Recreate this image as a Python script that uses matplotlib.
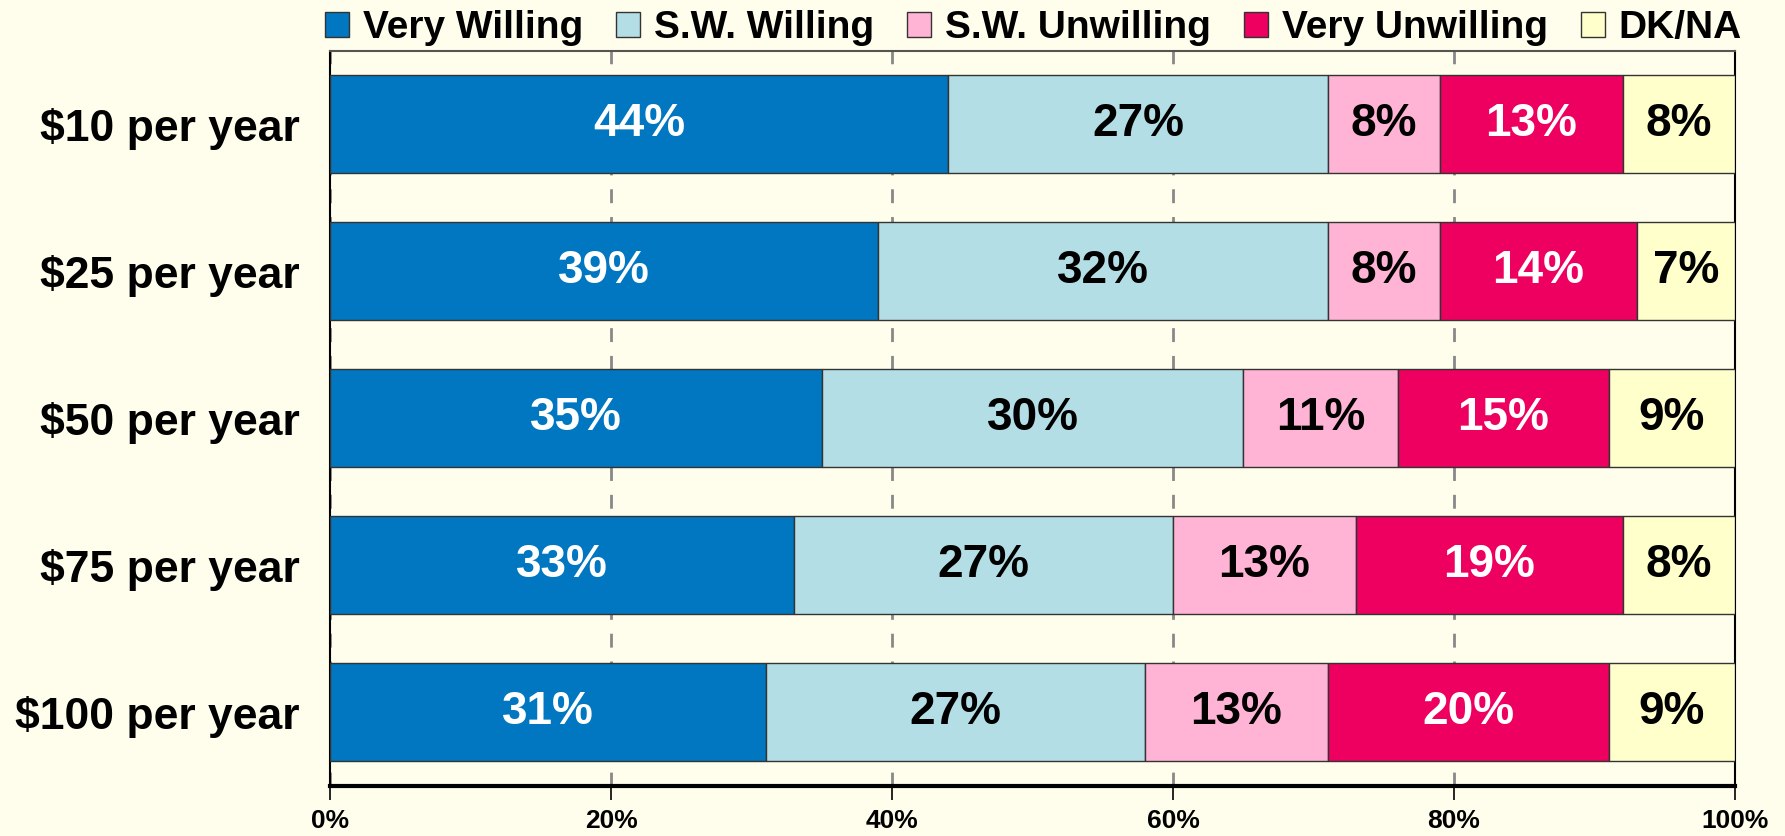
# 支払い意思の積み上げ横棒グラフ
import numpy as np
import matplotlib.pyplot as plt

plt.rcParams['font.family'] = ['Liberation Sans', 'DejaVu Sans']

# データ
categories = ["$10 per year", "$25 per year", "$50 per year", "$75 per year", "$100 per year"]
series = ["Very Willing", "S.W. Willing", "S.W. Unwilling", "Very Unwilling", "DK/NA"]
very_willing = [44, 39, 35, 33, 31]
sw_willing = [27, 32, 30, 27, 27]
sw_unwilling = [8, 8, 11, 13, 13]
very_unwilling = [13, 14, 15, 19, 20]
dk_na = [8, 7, 9, 8, 9]
xticks = [0, 20, 40, 60, 80, 100]

colors = ["#0077c0", "#b4dee6", "#ffb3d5", "#ee0060", "#ffffcc"]
text_colors = ["white", "black", "black", "white", "black"]
bg = "#fffeec"

fig = plt.figure(figsize=(17.85, 8.36), dpi=100, facecolor=bg)
ax = fig.add_axes([0.185, 0.06, 0.787, 0.879], facecolor=bg)

data = [very_willing, sw_willing, sw_unwilling, very_unwilling, dk_na]
y = np.arange(len(categories))
left = np.zeros(len(categories))
for vals, name, c, tc in zip(data, series, colors, text_colors):
    vals = np.array(vals, dtype=float)
    bars = ax.barh(y, vals, left=left, height=0.667, color=c, edgecolor="#333333",
                   linewidth=1, label=name, zorder=3)
    for b, v in zip(bars, vals):
        ax.text(b.get_x() + b.get_width() / 2, b.get_y() + b.get_height() / 2,
                f"{int(v)}%", ha="center", va="center", color=tc,
                fontsize=33, fontweight="bold", zorder=4)
    left += vals

ax.set_xlim(0, 100)
ax.set_ylim(len(categories) - 0.5, -0.5)
ax.set_yticks(y)
ax.set_yticklabels(categories, fontsize=32, fontweight="bold")
ax.tick_params(axis="y", length=0, pad=22)
ax.set_xticks(xticks)
ax.set_xticklabels([f"{t}%" for t in xticks], fontsize=19, fontweight="bold")
ax.tick_params(axis="x", length=10, width=1.2, direction="out", pad=7)
ax.xaxis.grid(True, color="#888888", linestyle=(0, (5, 5)), linewidth=2, zorder=0)

for s in ["left", "right"]:
    ax.spines[s].set_linewidth(1.5)
ax.spines["top"].set_color("#555555")
ax.spines["top"].set_linewidth(1.5)
ax.spines["bottom"].set_linewidth(3)

fig.legend(*ax.get_legend_handles_labels(), loc="center", bbox_to_anchor=(0.579, 0.966),
           ncol=5, frameon=False, prop={"size": 28, "weight": "bold"},
           handlelength=0.62, handleheight=0.62, handletextpad=0.35, columnspacing=0.85)

plt.savefig("out.png", dpi=100, facecolor=bg)
